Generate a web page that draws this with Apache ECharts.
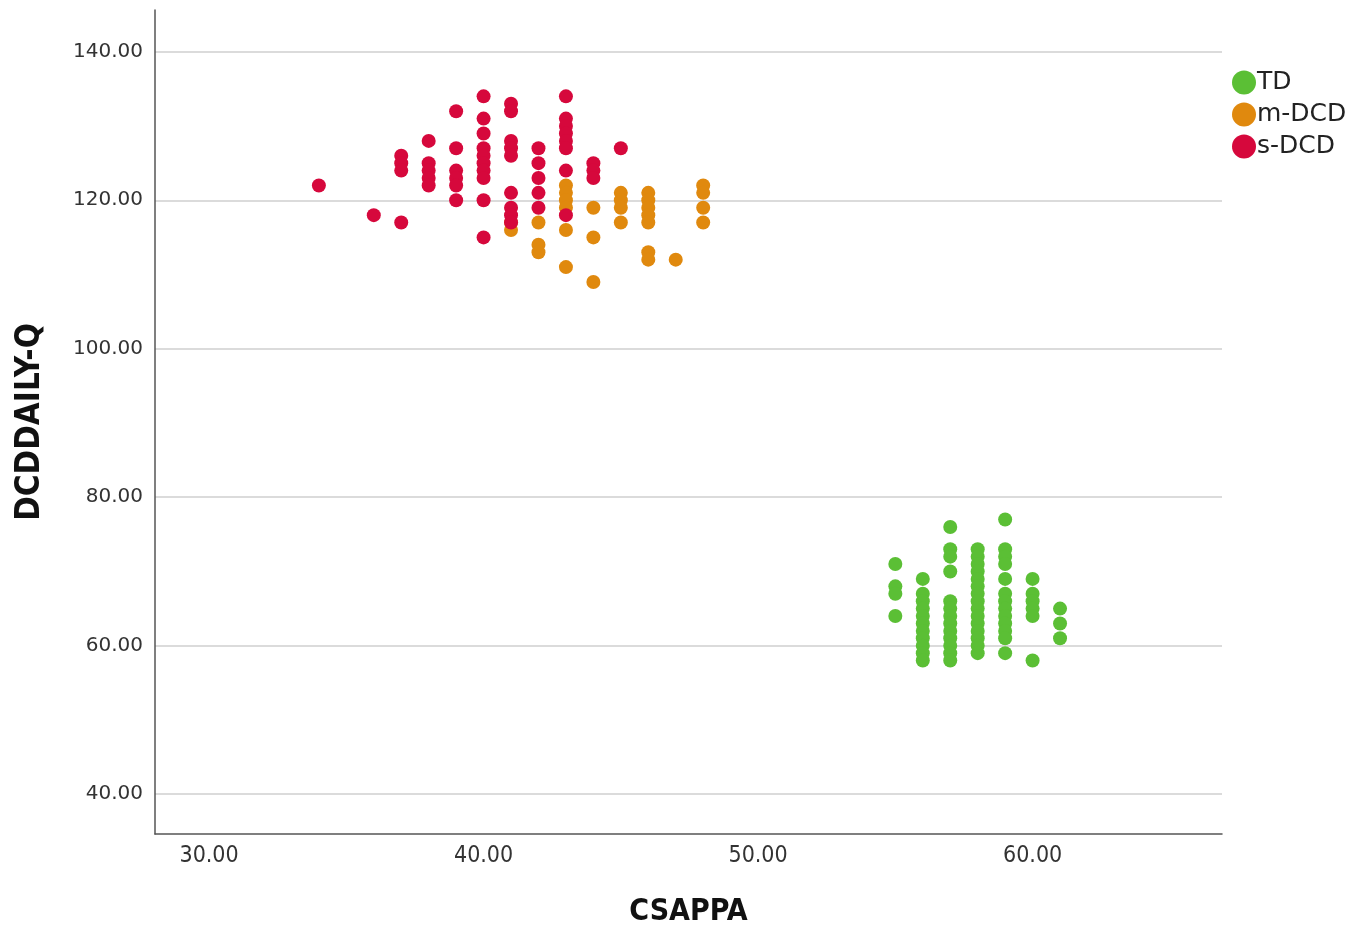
<!DOCTYPE html>
<html>
<head>
<meta charset="utf-8">
<script src="https://cdn.jsdelivr.net/npm/echarts@6/dist/echarts.min.js"></script>
<style>
html,body{margin:0;padding:0;background:#fff;}
#chart{width:1369px;height:932px;}
</style>
</head>
<body>
<div id="chart"></div>
<script>
// Data: [CSAPPA, DCDDAILY-Q]
const seriesNames = ['TD', 'm-DCD', 's-DCD'];
const yTickValues = [40, 60, 80, 100, 120, 140];
const xTickValues = [30, 40, 50, 60];

const tdData = [
  [55,71],[55,68],[55,67],[55,64],
  [56,69],[56,67],[56,66],[56,65],[56,64],[56,63],[56,62],[56,61],[56,60],[56,59],[56,58],
  [57,76],[57,73],[57,72],[57,70],[57,66],[57,65],[57,64],[57,63],[57,62],[57,61],[57,60],[57,59],[57,58],
  [58,73],[58,72],[58,71],[58,70],[58,69],[58,68],[58,67],[58,66],[58,65],[58,64],[58,63],[58,62],[58,61],[58,60],[58,59],
  [59,77],[59,73],[59,72],[59,71],[59,69],[59,67],[59,66],[59,65],[59,64],[59,63],[59,62],[59,61],[59,59],
  [60,69],[60,67],[60,66],[60,65],[60,64],[60,58],
  [61,65],[61,63],[61,61]
];
const mdcdData = [
  [41,117],[41,116],
  [42,117],[42,114],[42,113],
  [43,122],[43,121],[43,120],[43,119],[43,116],[43,111],
  [44,119],[44,115],[44,109],
  [45,121],[45,120],[45,119],[45,117],
  [46,121],[46,120],[46,119],[46,118],[46,117],[46,113],[46,112],
  [47,112],
  [48,122],[48,121],[48,119],[48,117]
];
const sdcdData = [
  [34,122],
  [36,118],
  [37,126],[37,125],[37,124],[37,117],
  [38,128],[38,125],[38,124],[38,123],[38,122],
  [39,132],[39,127],[39,124],[39,123],[39,122],[39,120],
  [40,134],[40,131],[40,129],[40,127],[40,126],[40,125],[40,124],[40,123],[40,120],[40,115],
  [41,133],[41,132],[41,128],[41,127],[41,126],[41,121],[41,119],[41,118],[41,117],
  [42,127],[42,125],[42,123],[42,121],[42,119],
  [43,134],[43,131],[43,130],[43,129],[43,128],[43,127],[43,124],[43,118],
  [44,125],[44,124],[44,123],
  [45,127]
];

const colors = ['#5bbf35', '#e0890e', '#d6083c'];
const condensed = "'DejaVu Sans Condensed', 'Liberation Sans', sans-serif";
const chart = echarts.init(document.getElementById('chart'));
const mk = (name, data, color) => ({
  name, type: 'scatter', data, symbol: 'circle', symbolSize: 14,
  itemStyle: { color, opacity: 1 }
});
chart.setOption({
  animation: false,
  backgroundColor: '#fff',
  grid: { left: 155, right: 147, top: 10, bottom: 94, containLabel: false },
  legend: {
    orient: 'vertical', left: 1227, top: 65,
    itemWidth: 24, itemHeight: 24, itemGap: 7, icon: 'circle',
    textStyle: { fontSize: 25, lineHeight: 24, color: '#222', fontFamily: 'DejaVu Sans', padding: [0,0,0,-4] },
    data: seriesNames
  },
  xAxis: {
    type: 'value', min: 28.03, max: 66.9,
    name: 'CSAPPA', nameLocation: 'middle', nameGap: 63,
    nameTextStyle: { fontSize: 30, fontWeight: 'bold', color: '#111', fontFamily: condensed },
    axisLine: { show: true, lineStyle: { color: '#555', width: 1.5 } },
    axisTick: { show: false, customValues: xTickValues },
    splitLine: { show: false },
    axisLabel: {
      customValues: xTickValues, margin: 11, fontSize: 23, color: '#333',
      fontFamily: condensed,
      formatter: v => v.toFixed(2)
    }
  },
  yAxis: {
    type: 'value', min: 34.64, max: 145.63,
    name: 'DCDDAILY-Q', nameLocation: 'middle', nameGap: 108, nameRotate: 90,
    nameTextStyle: { fontSize: 33, fontWeight: 'bold', color: '#111', fontFamily: condensed },
    axisLine: { show: true, lineStyle: { color: '#555', width: 1.5 } },
    axisTick: { show: false, customValues: yTickValues },
    splitLine: { show: true, lineStyle: { color: '#cfcfcf', width: 1.5 } },
    axisLabel: {
      customValues: yTickValues, margin: 12, fontSize: 20, color: '#333',
      fontFamily: 'DejaVu Sans',
      formatter: v => v.toFixed(2)
    }
  },
  series: [
    mk(seriesNames[0], tdData, colors[0]),
    mk(seriesNames[1], mdcdData, colors[1]),
    mk(seriesNames[2], sdcdData, colors[2])
  ]
});
</script>
</body>
</html>
